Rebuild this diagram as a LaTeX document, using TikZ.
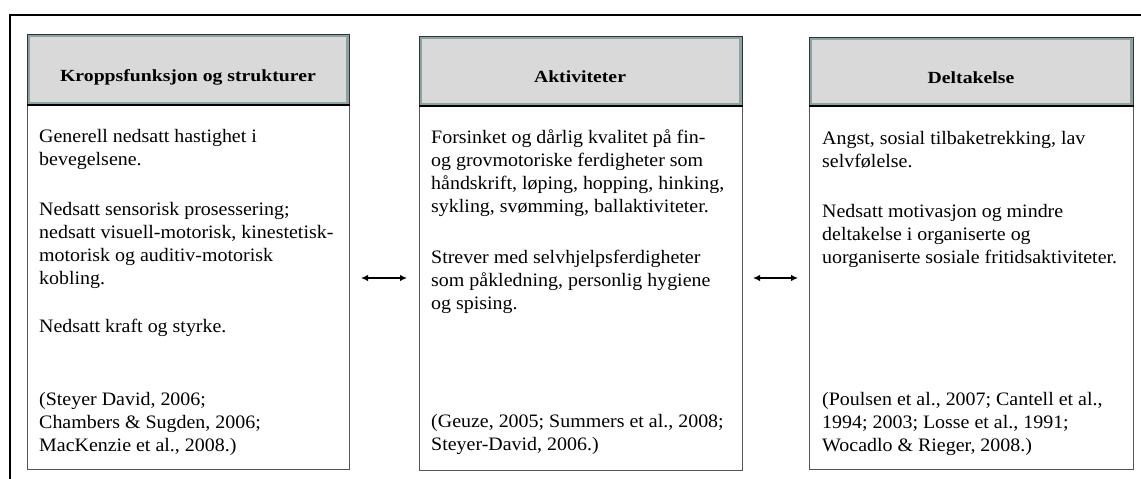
\documentclass[tikz,border=0pt]{standalone}
\usepackage{fontspec}
\setmainfont[FakeStretch=1.05]{Liberation Serif}
\newfontfamily\hdrfamily[FakeStretch=1.16]{Liberation Serif}
\usetikzlibrary{arrows.meta,calc}
\definecolor{hdrfill}{HTML}{D9D9D9}
\definecolor{hdrrim}{HTML}{8EA2A2}
\definecolor{boxline}{HTML}{555555}
\newcommand{\bodypar}[1]{\parbox[t]{320pt}{\raggedright #1}}
\begin{document}
\begin{tikzpicture}[x=1pt,y=-1pt,
  hdr/.style={draw=hdrrim,line width=2.6pt,fill=hdrfill,inner sep=0pt},
  hdrout/.style={draw=black!80,line width=0.8pt},
  bodybox/.style={draw=boxline,line width=1pt,minimum width=#1,inner sep=0pt,anchor=north west},
  hdrtext/.style={font=\hdrfamily\fontsize{17}{20}\selectfont\bfseries,inner sep=0pt,anchor=base},
  bodytext/.style={font=\fontsize{19}{23.3}\selectfont,anchor=base west,inner sep=0pt},
  arr/.style={{Latex[length=7pt,width=6.5pt]}-{Latex[length=7pt,width=6.5pt]},line width=1.3pt}
]
\useasboundingbox (0,0) rectangle (1141,479);
% outer frame
\draw[line width=2.2pt,black] (10,481) -- (10,15) -- (1143,15);

% ---- column 1
\path[hdr] (28.3,35.3) rectangle (347.7,103.7);
\draw[hdrout] (27,34) rectangle (349,105);
\node[bodybox=322pt,minimum height=364pt] (b1) at (27,105) {};
\draw[line width=1.6pt] (b1.north west) -- (b1.north east);
\node[hdrtext] (h1) at (188,81) {Kroppsfunksjon og strukturer};
\node[bodytext] (t1a) at (39,142) {\bodypar{Generell nedsatt hastighet i\\bevegelsene.}};
\node[bodytext] (t1b) at (39,215) {\bodypar{Nedsatt sensorisk prosessering;\\nedsatt visuell-motorisk, kinestetisk-\\motorisk og auditiv-motorisk\\kobling.}};
\node[bodytext] (t1c) at (39,332) {\bodypar{Nedsatt kraft og styrke.}};
\node[bodytext] (t1d) at (39,405) {\bodypar{(Steyer David, 2006;\\Chambers \& Sugden, 2006;\\MacKenzie et al., 2008.)}};

% ---- column 2
\path[hdr] (420.3,37.3) rectangle (740.7,104.7);
\draw[hdrout] (419,36) rectangle (742,106);
\node[bodybox=323pt,minimum height=364pt] (b2) at (419,106) {};
\draw[line width=1.6pt] (b2.north west) -- (b2.north east);
\node[hdrtext] (h2) at (580,82) {Aktiviteter};
\node[bodytext] (t2a) at (431,143) {\bodypar{Forsinket og dårlig kvalitet på fin-\\og grovmotoriske ferdigheter som\\håndskrift, løping, hopping, hinking,\\sykling, svømming, ballaktiviteter.}};
\node[bodytext] (t2b) at (431,263) {\bodypar{Strever med selvhjelpsferdigheter\\som påkledning, personlig hygiene\\og spising.}};
\node[bodytext] (t2c) at (431,427) {\bodypar{(Geuze, 2005; Summers et al., 2008;\\Steyer-David, 2006.)}};

% ---- column 3
\path[hdr] (810.3,38.3) rectangle (1131.7,104.7);
\draw[hdrout] (809,37) rectangle (1133,106);
\node[bodybox=324pt,minimum height=363pt] (b3) at (809,106) {};
\draw[line width=1.6pt] (b3.north west) -- (b3.north east);
\node[hdrtext] (h3) at (971,83) {Deltakelse};
\node[bodytext] (t3a) at (822,144) {\bodypar{Angst, sosial tilbaketrekking, lav\\selvfølelse.}};
\node[bodytext] (t3b) at (822,217) {\bodypar{Nedsatt motivasjon og mindre\\deltakelse i organiserte og\\uorganiserte sosiale fritidsaktiviteter.}};
\node[bodytext] (t3c) at (822,405) {\bodypar{(Poulsen et al., 2007; Cantell et al.,\\1994; 2003; Losse et al., 1991;\\Wocadlo \& Rieger, 2008.)}};

% ---- arrows
\coordinate (ay) at (0,278);
\draw[arr,shorten <=11pt,shorten >=12pt] (b1.east |- ay) -- (b2.west |- ay);
\draw[arr,shorten <=10pt,shorten >=11pt] (b2.east |- ay) -- (b3.west |- ay);
\end{tikzpicture}
\end{document}
